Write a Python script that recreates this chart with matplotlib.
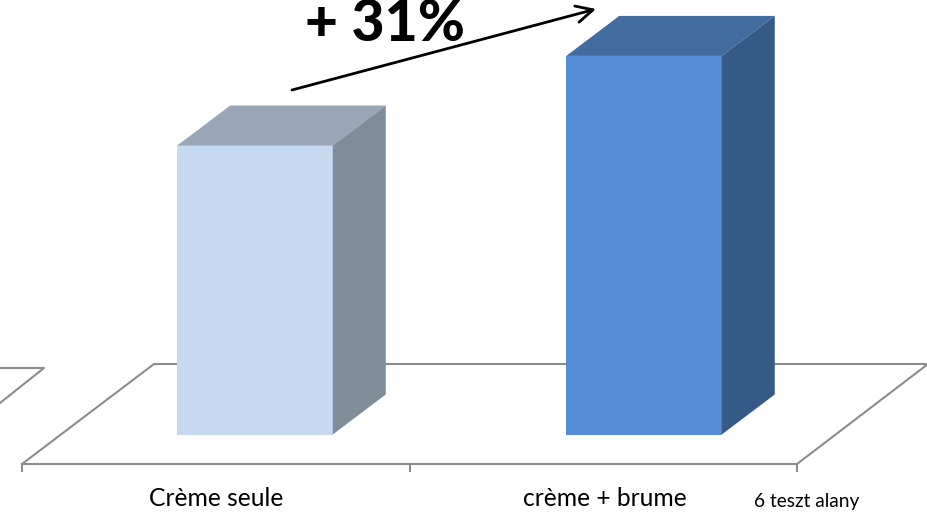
import numpy as np
import matplotlib
matplotlib.use('Agg')
import matplotlib.pyplot as plt
from matplotlib.patches import Polygon

categories = ['Crème seule', 'crème + brume']
values = [100, 131]
front_colors = ['#C6D9F1', '#558ED5']
top_colors = ['#98A6B8', '#426BA0']
side_colors = ['#7F8C99', '#355A87']
gain_label = '+ 31%'
note_label = '6 teszt alany'

# scale of the picture: bars are 1 x-unit apart, 100 units is 289 px high
px_x = 389.0
px_y = 2.89
x0_px = 255.0
y0_px = 434.5
bar_width = 155.5 / px_x
depth_x = 53 / px_x
depth_y = 40 / px_y

plt.rcParams['font.family'] = ['Lato', 'DejaVu Sans']

fig = plt.figure(figsize=(9.28, 5.13), dpi=100)
ax = fig.add_axes([0, 0, 1, 1])
ax.set_xlim(-x0_px / px_x, (928 - x0_px) / px_x)
ax.set_ylim((y0_px - 513) / px_y, y0_px / px_y)
ax.axis('off')


def fx(p):
    return (p - x0_px) / px_x


def fy(p):
    return (y0_px - p) / px_y


# floor of the 3d chart
line_color = '#8C8C8C'
ax.plot([fx(22), fx(154), fx(928)], [fy(464), fy(364), fy(364)], color=line_color, lw=1.5, zorder=1)
ax.plot([fx(22), fx(797), fx(928)], [fy(464), fy(464), fy(364)], color=line_color, lw=1.5, zorder=1)
ax.plot([fx(0), fx(44), fx(0)], [fy(403), fy(368), fy(368)], color=line_color, lw=1.5, zorder=1)
for t in [22, 410, 797]:
    ax.plot([fx(t), fx(t)], [fy(464), fy(471)], color=line_color, lw=1.5, zorder=1)

# bars with top and side faces
for i, v in enumerate(values):
    left = i - bar_width / 2
    right = i + bar_width / 2
    ax.bar(i, v, width=bar_width, color=front_colors[i], zorder=3)
    ax.add_patch(Polygon([(left, v), (right, v), (right + depth_x, v + depth_y), (left + depth_x, v + depth_y)],
                         closed=True, facecolor=top_colors[i], edgecolor='none', zorder=3))
    ax.add_patch(Polygon([(right, 0), (right + depth_x, depth_y), (right + depth_x, v + depth_y), (right, v)],
                         closed=True, facecolor=side_colors[i], edgecolor='none', zorder=3))
    ax.text(i - 0.1, fy(498), categories[i], ha='center', va='center', fontsize=17.7, color='black')

ax.text(fx(807), fy(502), note_label, ha='center', va='center', fontsize=13.8, color='black')

# arrow and percentage on top
ax.annotate('', xy=(fx(596), fy(9)), xytext=(fx(292), fy(90)),
            arrowprops=dict(arrowstyle='->', color='black', lw=2, mutation_scale=30, shrinkA=0, shrinkB=0), zorder=5)
ax.text(fx(385), fy(41), gain_label, ha='center', va='baseline', fontsize=41, fontweight='black', color='black', zorder=6)

fig.savefig('out.png', dpi=100)
